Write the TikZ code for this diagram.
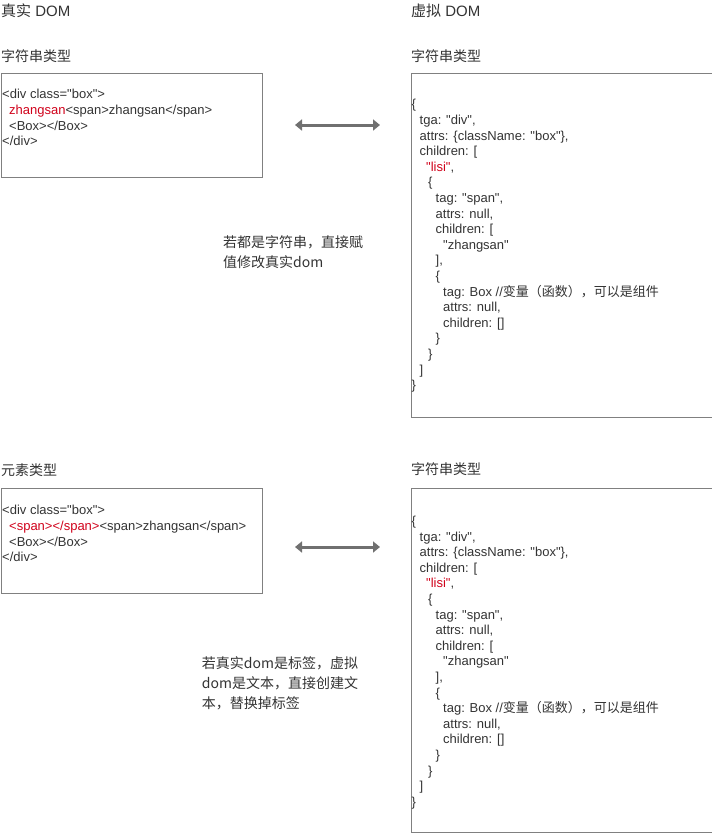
\documentclass[tikz,border=0pt]{standalone}
\usepackage{fontspec}
\setmainfont{Liberation Sans}[Ligatures=TeXOff]
\newfontfamily\cjk{Noto Sans CJK SC}[Ligatures=TeXOff]
\usetikzlibrary{arrows.meta}
\definecolor{txt}{HTML}{333333}
\definecolor{edge}{HTML}{808080}
\definecolor{arr}{HTML}{707070}
\definecolor{hl}{HTML}{D0021B}
\begin{document}
\begin{tikzpicture}[x=1pt,y=-1pt,
  box/.style={draw=edge,line width=1pt,inner sep=0,anchor=north west},
  code/.style={anchor=north west,inner sep=0,align=left,text=txt,font=\fontsize{13}{15.6}\selectfont},
  head/.style={anchor=west,inner sep=0,text=txt,font=\fontsize{15}{18}\selectfont},
  lbl/.style={anchor=west,inner sep=0,text=txt,font=\fontsize{14}{18}\selectfont\cjk},
  note/.style={anchor=west,inner sep=0,align=left,text=txt,font=\fontsize{14}{20}\selectfont\cjk},
  link/.style={draw=arr,line width=3pt,{Triangle[length=7pt,width=11pt]}-{Triangle[length=7pt,width=11pt]}}
]
\useasboundingbox (0,0) rectangle (712,833);

% headers and labels
\node[head] (h1) at (1,11) {{\cjk 真实} DOM};
\node[head] (h2) at (411,11) {{\cjk 虚拟} DOM};
\node[lbl] (l1) at (1,56) {字符串类型};
\node[lbl] (l2) at (411,56) {字符串类型};
\node[lbl] (l3) at (1,470) {元素类型};
\node[lbl] (l4) at (411,469) {字符串类型};

% boxes
\node[box,minimum width=261.5pt,minimum height=104pt] (b1) at (0.5,73) {};
\node[box,minimum width=300.8pt,minimum height=344pt] (b2) at (410.7,73) {};
\node[box,minimum width=261.5pt,minimum height=105pt] (b3) at (0.5,488) {};
\node[box,minimum width=300.5pt,minimum height=344pt] (b4) at (411,488) {};

% code top-left
\node[code] (c1) at (2,87.7) {\strut<div class="box">\\
\hspace*{7pt}\textcolor{hl}{zhangsan}<span>zhangsan</span>\\
\hspace*{7pt}<Box></Box>\\
</div>};

% code bottom-left
\node[code] (c3) at (2,503.7) {\strut<div class="box">\\
\hspace*{7pt}\textcolor{hl}{<span></span>}<span>zhangsan</span>\\
\hspace*{7pt}<Box></Box>\\
</div>};

% code right (top)
\node[code] (c2) at (411.5,97.7) {\strut\{\\
\hspace*{8pt}tga: "div",\\
\hspace*{8pt}attrs: \{className: "box"\},\\
\hspace*{8pt}children: [\\
\hspace*{14.5pt}\textcolor{hl}{"lisi"},\\
\hspace*{16.5pt}\{\\
\hspace*{24pt}tag: "span",\\
\hspace*{24pt}attrs: null,\\
\hspace*{24pt}children: [\\
\hspace*{31.5pt}"zhangsan"\\
\hspace*{24pt}],\\
\hspace*{24pt}\{\\
\hspace*{31.5pt}tag: Box //{\cjk 变量（函数），可以是组件}\\
\hspace*{31.5pt}attrs: null,\\
\hspace*{31.5pt}children: []\\
\hspace*{24pt}\}\\
\hspace*{16.5pt}\}\\
\hspace*{8pt}]\\
\}};

% code right (bottom)
\node[code] (c4) at (411.5,514.4) {\strut\{\\
\hspace*{8pt}tga: "div",\\
\hspace*{8pt}attrs: \{className: "box"\},\\
\hspace*{8pt}children: [\\
\hspace*{14.5pt}\textcolor{hl}{"lisi"},\\
\hspace*{16.5pt}\{\\
\hspace*{24pt}tag: "span",\\
\hspace*{24pt}attrs: null,\\
\hspace*{24pt}children: [\\
\hspace*{31.5pt}"zhangsan"\\
\hspace*{24pt}],\\
\hspace*{24pt}\{\\
\hspace*{31.5pt}tag: Box //{\cjk 变量（函数），可以是组件}\\
\hspace*{31.5pt}attrs: null,\\
\hspace*{31.5pt}children: []\\
\hspace*{24pt}\}\\
\hspace*{16.5pt}\}\\
\hspace*{8pt}]\\
\}};

% notes
\node[note] (n1) at (223,251.7) {若都是字符串，直接赋\\值修改真实dom};
\node[note] (n2) at (201.7,683) {若真实dom是标签，虚拟\\dom是文本，直接创建文\\本，替换掉标签};

% arrows
\coordinate (p1) at (295,125);
\coordinate (q1) at (380,125);
\coordinate (p2) at (295,547);
\coordinate (q2) at (380,547);
\draw[link] (p1) -- (q1);
\draw[link] (p2) -- (q2);
\end{tikzpicture}
\end{document}
